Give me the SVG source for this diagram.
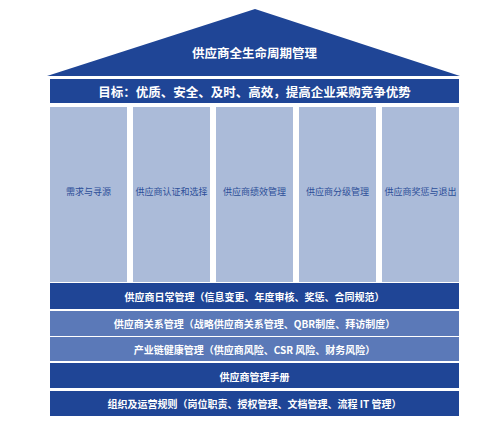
<svg xmlns="http://www.w3.org/2000/svg" width="489" height="429" viewBox="0 0 489 429">
<style>
.t{font-family:"Noto Sans CJK SC","Noto Sans",sans-serif;text-anchor:middle;dominant-baseline:central}
.w{fill:#ffffff}
.h{font-size:12.5px;font-weight:700}
.b{font-size:10px;font-weight:700}
.c{font-size:9px;fill:#2b4e98}
.dark{fill:#1f4596}
.mid{fill:#5b79b8}
.col{fill:#abbbd9}
</style>
<rect width="489" height="429" fill="#ffffff"/>
<g id="roof">
<polygon class="dark" points="47,76 255,9 460,76"/>
<text class="t w h" x="254.5" y="52">供应商全生命周期管理</text>
</g>
<g id="goal">
<rect class="dark" x="50" y="79" width="409" height="24"/>
<text class="t w h" x="254.5" y="91">目标：优质、安全、及时、高效，提高企业采购竞争优势</text>
</g>
<g id="pillar1">
<rect class="col" x="50" y="107" width="77" height="175"/>
<text class="t c" x="88.5" y="191">需求与寻源</text>
</g>
<g id="pillar2">
<rect class="col" x="133" y="107" width="77" height="175"/>
<text class="t c" x="171.5" y="191">供应商认证和选择</text>
</g>
<g id="pillar3">
<rect class="col" x="216" y="107" width="77" height="175"/>
<text class="t c" x="254.5" y="191">供应商绩效管理</text>
</g>
<g id="pillar4">
<rect class="col" x="299" y="107" width="77" height="175"/>
<text class="t c" x="337.5" y="191">供应商分级管理</text>
</g>
<g id="pillar5">
<rect class="col" x="382" y="107" width="77" height="175"/>
<text class="t c" x="420.5" y="191">供应商奖惩与退出</text>
</g>
<g id="bar1">
<rect class="dark" x="50" y="283" width="409" height="26"/>
<text class="t w b" x="254.5" y="296.5">供应商日常管理（信息变更、年度审核、奖惩、合同规范）</text>
</g>
<g id="bar2">
<rect class="mid" x="50" y="311" width="409" height="25"/>
<text class="t w b" x="254.5" y="323.5">供应商关系管理（战略供应商关系管理、QBR制度、拜访制度）</text>
</g>
<g id="bar3">
<rect class="mid" x="50" y="337" width="409" height="24"/>
<text class="t w b" x="254.5" y="349.5">产业链健康管理（供应商风险、CSR 风险、财务风险）</text>
</g>
<g id="bar4">
<rect class="dark" x="50" y="363" width="409" height="25"/>
<text class="t w b" x="254.5" y="376">供应商管理手册</text>
</g>
<g id="bar5">
<rect class="dark" x="50" y="391" width="409" height="25"/>
<text class="t w b" x="254.5" y="403.5">组织及运营规则（岗位职责、授权管理、文档管理、流程 IT 管理）</text>
</g>
<g id="connectors"></g>
</svg>
